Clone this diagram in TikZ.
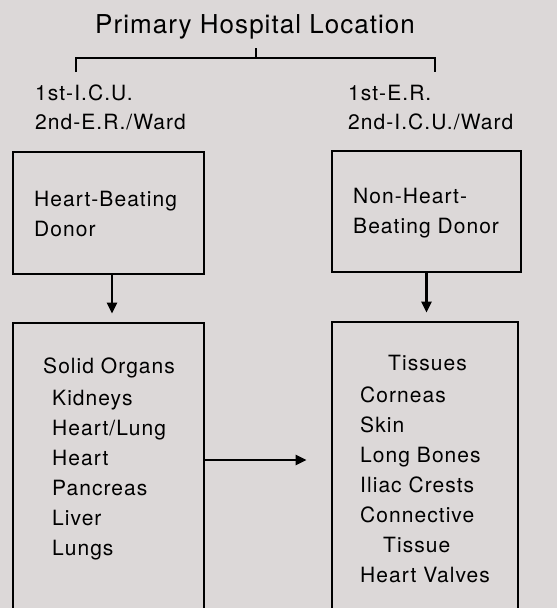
\documentclass[tikz,border=0pt]{standalone}
\usepackage{fontspec}
\setmainfont{TeX Gyre Heros}
\newfontfamily\hv[LetterSpace=5]{TeX Gyre Heros}
\newfontfamily\hvt[LetterSpace=4]{TeX Gyre Heros}
\usetikzlibrary{arrows.meta}
\definecolor{bg}{RGB}{220,216,216}
\begin{document}
\begin{tikzpicture}[x=1pt,y=-1pt,
  box/.style={draw=black, line width=2.8pt, inner sep=0pt},
  txt/.style={anchor=base west, inner sep=0pt, font=\hv\fontsize{21}{24}\selectfont},
  ttl/.style={anchor=base west, inner sep=0pt, font=\hvt\fontsize{26}{30}\selectfont},
  brk/.style={line width=2.5pt},
  arr/.style={-{Triangle[length=11pt,width=10pt]}, line width=2.4pt}]
\useasboundingbox (0,0) rectangle (557,608);
\fill[bg] (0,0) rectangle (557,608);
\clip (0,0) rectangle (557,608);
% title and bracket
\node[ttl] (t) at (95,33) {Primary Hospital Location};
\coordinate (bt) at (256,48);
\coordinate (bm) at (256,58);
\coordinate (bl) at (76,72);
\coordinate (br) at (435,72);
\draw[brk] (bl) |- (bm) -| (br);
\draw[brk] (bm) -- (bt);
% location labels
\node[txt] (la1) at (35,100) {1st-I.C.U.};
\node[txt] (la2) at (35,129) {2nd-E.R./Ward};
\node[txt] (ra1) at (348,100) {1st-E.R.};
\node[txt] (ra2) at (348,129) {2nd-I.C.U./Ward};
% boxes
\node[box, minimum width=191pt, minimum height=122pt] (hb) at (108.5,213) {};
\node[box, minimum width=189pt, minimum height=121pt] (nhb) at (426.5,211.5) {};
\node[box, minimum width=191pt, minimum height=317pt] (so) at (108.5,481.5) {};
\node[box, minimum width=186pt, minimum height=318pt] (ti) at (425,481) {};
% box texts
\node[txt] (hb1) at (34,206) {Heart-Beating};
\node[txt] (hb2) at (34,236) {Donor};
\node[txt] (nh1) at (353,203) {Non-Heart-};
\node[txt] (nh2) at (353,233) {Beating Donor};
% solid organs
\node[txt] (s0) at (43,373) {Solid Organs};
\node[txt] (s1) at (52,405) {Kidneys};
\node[txt] (s2) at (52,435) {Heart/Lung};
\node[txt] (s3) at (52,465) {Heart};
\node[txt] (s4) at (52,495) {Pancreas};
\node[txt] (s5) at (52,525) {Liver};
\node[txt] (s6) at (52,555) {Lungs};
% tissues
\node[txt] (u0) at (388,370) {Tissues};
\node[txt] (u1) at (360,402) {Corneas};
\node[txt] (u2) at (360,432) {Skin};
\node[txt] (u3) at (360,462) {Long Bones};
\node[txt] (u4) at (360,492) {Iliac Crests};
\node[txt] (u5) at (360,522) {Connective};
\node[txt] (u6) at (383,552) {Tissue};
\node[txt] (u7) at (360,582) {Heart Valves};
% arrows
\draw[arr] ([xshift=3.5pt]hb.south) -- ([xshift=3.5pt,yshift=8pt]so.north);
\draw[arr] (nhb.south) -- ([yshift=8pt]nhb.south |- ti.north);
\coordinate (h) at (0,460);
\draw[arr] (so.east |- h) -- ([xshift=-24pt]ti.west |- h);
\end{tikzpicture}
\end{document}
